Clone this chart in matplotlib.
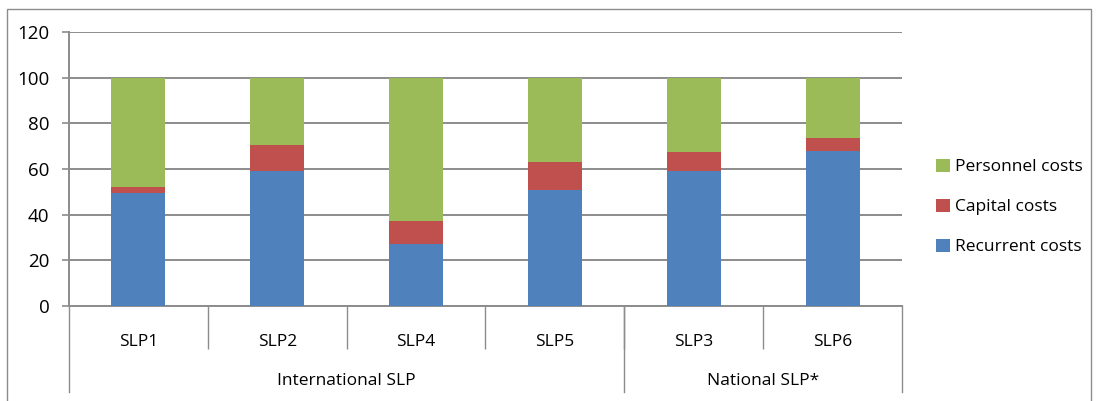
import matplotlib.pyplot as plt
import matplotlib.transforms as mtransforms
import numpy as np
from matplotlib.patches import Rectangle

plt.rcParams["font.family"] = ["Open Sans", "DejaVu Sans"]

categories = ["SLP1", "SLP2", "SLP4", "SLP5", "SLP3", "SLP6"]
recurrent = [49.5, 59.0, 27.0, 51.0, 59.0, 67.8]
capital = [2.8, 11.5, 10.2, 12.2, 8.6, 5.6]
personnel = [47.7, 29.5, 62.8, 36.8, 32.4, 26.6]
groups = ["International SLP", "National SLP*"]
group_sizes = [4, 2]
yticks = [0, 20, 40, 60, 80, 100, 120]

BLUE = "#4F81BD"
RED = "#C0504D"
GREEN = "#9BBB59"
GRID = "#8C8C8C"

W, H = 1098, 401
fig = plt.figure(figsize=(W / 100, H / 100), dpi=100)
ax = fig.add_axes([69 / W, 1 - 306 / H, (902 - 69) / W, (306 - 32) / H])

# outer chart border
fig.patches.append(Rectangle((7 / W, -0.05), (1091 - 7) / W, 1.05 - 9 / H,
                             transform=fig.transFigure, fill=False,
                             edgecolor="#8C8C8C", linewidth=1.0))

x = np.arange(len(categories))
bw = 0.39
rec = np.array(recurrent)
cap = np.array(capital)
per = np.array(personnel)
ax.bar(x, rec, bw, color=BLUE, label="Recurrent costs", zorder=3)
ax.bar(x, cap, bw, bottom=rec, color=RED, label="Capital costs", zorder=3)
ax.bar(x, per, bw, bottom=rec + cap, color=GREEN, label="Personnel costs", zorder=3)

ax.set_xlim(-0.5, len(categories) - 0.5)
ax.set_ylim(0, 120)
ax.set_yticks(yticks)
ax.tick_params(axis="y", length=5, color=GRID, width=1.2, labelsize=13.5, pad=9)
ax.yaxis.grid(True, color=GRID, linewidth=1.4, zorder=0)
for s in ["top", "right"]:
    ax.spines[s].set_visible(False)
for s in ["left", "bottom"]:
    ax.spines[s].set_color(GRID)
    ax.spines[s].set_linewidth(1.4)

# category labels and dividers
ax.set_xticks(x)
ax.set_xticklabels(categories)
ax.tick_params(axis="x", which="major", length=0, labelsize=12.5, pad=20)
ax.set_xticks(np.arange(0.5, len(categories) - 1, 1.0), minor=True)
ax.tick_params(axis="x", which="minor", length=31, color=GRID, width=1.0)

# group level dividers and labels
bounds = np.concatenate([[0], np.cumsum(group_sizes)]) - 0.5
trans = mtransforms.blended_transform_factory(ax.transData, fig.transFigure)
for b in bounds:
    ax.plot([b, b], [1 - 306 / H, 1 - 392 / H], color=GRID, linewidth=1.0,
            transform=trans, clip_on=False)
for g, lo, hi in zip(groups, bounds[:-1], bounds[1:]):
    ax.text((lo + hi) / 2, 1 - 381 / H, g, transform=trans, ha="center",
            va="center", fontsize=12.5)

handles, labels = ax.get_legend_handles_labels()
fig.legend(handles[::-1], labels[::-1], loc="center left",
           bbox_to_anchor=(920 / W, 1 - 207 / H), frameon=False, fontsize=12.5,
           handlelength=0.8, handleheight=0.8, handletextpad=0.3,
           labelspacing=1.35)

fig.savefig("out.png", dpi=100)
